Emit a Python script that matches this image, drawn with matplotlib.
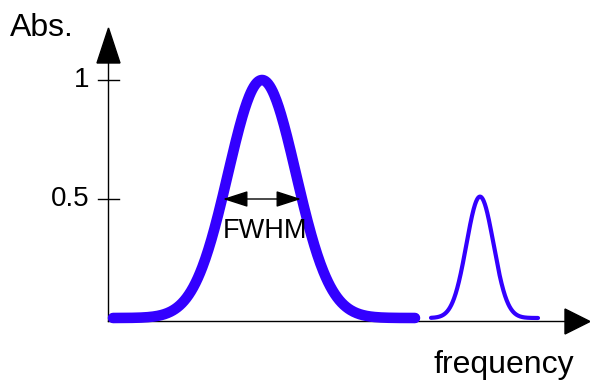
import numpy as np
import matplotlib
matplotlib.use("Agg")
import matplotlib.pyplot as plt
from matplotlib.patches import Polygon

plt.rcParams['font.family'] = ['Liberation Sans', 'DejaVu Sans']

# Peak data (x in frequency units, drawing-scale; y = absorbance)
peak_centers = [262, 480]
peak_heights = [1.0, 0.51]
peak_fwhm = [80, 32]
peak_ranges = [(113, 415), (431, 538)]
peak_widths = [7.6, 3.0]

y_ticks = [0.5, 1]
y_tick_labels = ["0.5", "1"]

BLUE = "#3300ff"

fig = plt.figure(figsize=(5.90, 3.83), dpi=100)
ax = fig.add_axes([0, 0, 1, 1])
ax.set_xlim(0, 590)
# y data: 0 at pixel 318, 1 at pixel 80
scale = 238.0
ax.set_ylim((318 - 383) / scale, 318 / scale)
ax.axis('off')

def Y(py):
    return (318 - py) / scale

for c, h, fw, (x0, x1), lw in zip(peak_centers, peak_heights, peak_fwhm, peak_ranges, peak_widths):
    sigma = fw / 2.3548
    x = np.linspace(x0, x1, 400)
    y = h * np.exp(-0.5 * ((x - c) / sigma) ** 2)
    ax.plot(x, y, color=BLUE, lw=lw, solid_capstyle='round', zorder=3)

# axes
ax.plot([108, 108], [Y(321), Y(60)], color='black', lw=1.0, zorder=2)
ax.add_patch(Polygon([[97, Y(63)], [120, Y(63)], [108.5, Y(28)]], closed=True, color='black'))
ax.plot([108, 567], [Y(321), Y(321)], color='black', lw=1.0, zorder=2)
ax.add_patch(Polygon([[565, Y(309)], [565, Y(334)], [590, Y(321.5)]], closed=True, color='black'))

for t, lab in zip(y_ticks, y_tick_labels):
    ax.plot([98, 119], [t, t], color='black', lw=1.0)
    ax.text(89, t, lab, ha='right', va='center', fontsize=20)

# FWHM arrow
half = peak_heights[0] / 2
hw = peak_fwhm[0] / 2
ax.annotate('', xy=(peak_centers[0] - hw + 1, half), xytext=(peak_centers[0] + hw - 1, half),
            arrowprops=dict(arrowstyle='<|-|>,head_length=1.55,head_width=0.5', color='black',
                            lw=1.0, shrinkA=0, shrinkB=0), zorder=4)
ax.text(peak_centers[0] + 3, Y(231), 'FWHM', ha='center', va='center', fontsize=19.5)

ax.text(10, Y(28), 'Abs.', ha='left', va='center', fontsize=23)
ax.text(504, Y(373), 'frequency', ha='center', va='baseline', fontsize=23)

fig.savefig('out.png', dpi=100)
